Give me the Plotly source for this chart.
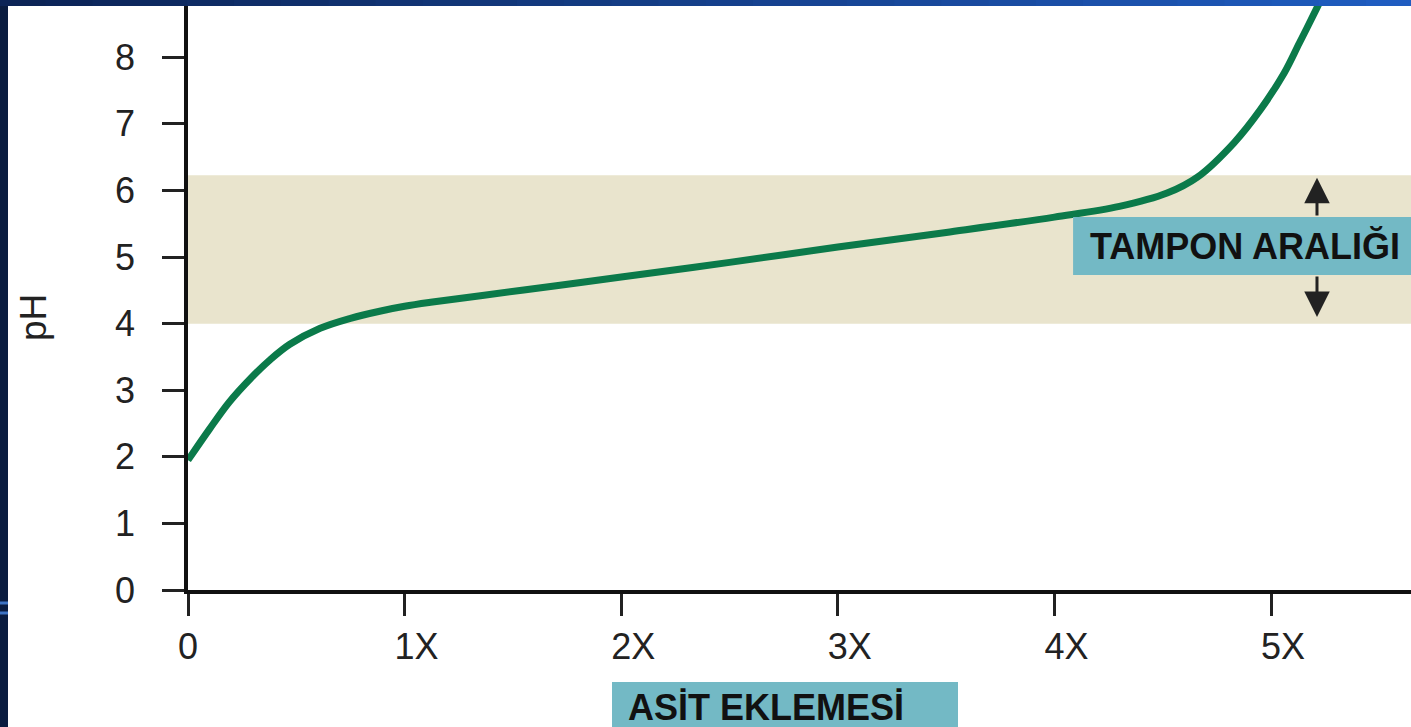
import plotly.graph_objects as go

# ---------------- data ----------------
acid_added = [0, 0.10, 0.19, 0.29, 0.38, 0.47, 0.61, 0.75, 0.89, 1.0, 1.12,
              1.35, 1.7, 2.0, 2.5, 3.0, 3.5, 4.0, 4.3, 4.52, 4.66, 4.83, 4.95,
              5.06, 5.13, 5.21, 5.26]
ph_values = [1.95, 2.42, 2.82, 3.18, 3.46, 3.69, 3.93, 4.08, 4.19, 4.26, 4.32,
             4.42, 4.57, 4.70, 4.92, 5.15, 5.37, 5.60, 5.76, 5.96, 6.20, 6.72, 7.21,
             7.76, 8.21, 8.73, 9.07]
x_tick_vals = [0, 1, 2, 3, 4, 5]
x_tick_labels = ["0", "1X", "2X", "3X", "4X", "5X"]
y_tick_vals = [0, 1, 2, 3, 4, 5, 6, 7, 8]
buffer_low, buffer_high = 4.0, 6.23
buffer_label = "TAMPON ARALIĞI"
x_title = "ASİT EKLEMESİ"
y_title = "pH"

FONT = "Liberation Sans, Arial, Helvetica, sans-serif"
W, H = 1411, 727
ML, MR, MT, MB = 188, 0, 6, 137
X_RANGE = [0, 5.646]
Y_RANGE = [0, 8.77]

# ticks: digit centred on tick (invisible X prefix keeps it centred)
x_ticktext = [t if t == "0" else "<span style='color:#ffffff'>X</span>" + t for t in x_tick_labels]

fig = go.Figure()
fig.add_trace(go.Scatter(
    x=acid_added, y=ph_values, mode="lines",
    line=dict(color="#0b7a4a", width=7, shape="spline", smoothing=1.0),
    hoverinfo="skip", showlegend=False,
))

shapes = []
# buffer band
shapes.append(dict(type="rect", xref="x", yref="y", x0=0, x1=X_RANGE[1] + 1,
                   y0=buffer_low, y1=buffer_high, fillcolor="#e9e4cd",
                   line=dict(width=0), layer="below"))
# label box for buffer range
shapes.append(dict(type="rect", xref="x", yref="y", x0=4.086, x1=X_RANGE[1] + 1,
                   y0=4.73, y1=5.60, fillcolor="#73b9c5",
                   line=dict(width=0), layer="above"))
pw = W - ML - MR
ph = H - MT - MB
def px_x(p):
    return (p - ML) / pw
def px_y(p):
    return (H - MB - p) / ph
# x title box (paper coords below the plot)
shapes.append(dict(type="rect", xref="paper", yref="paper",
                   x0=px_x(612), x1=px_x(958), y0=px_y(682), y1=px_y(760),
                   fillcolor="#73b9c5", line=dict(width=0), layer="above"))
# slide frame: left strip and top gradient strip
shapes.append(dict(type="rect", xref="paper", yref="paper",
                   x0=px_x(-2), x1=px_x(8), y0=px_y(730), y1=px_y(-2),
                   fillcolor="#0a1c40", line=dict(width=0), layer="above"))
for yy in (603, 613):
    shapes.append(dict(type="rect", xref="paper", yref="paper",
                       x0=px_x(-2), x1=px_x(8), y0=px_y(yy + 1.5), y1=px_y(yy - 1.5),
                       fillcolor="#3d73c4", line=dict(width=0), layer="above"))
c0 = (12, 36, 86)
c1 = (31, 92, 192)
n = 30
for i in range(n):
    t = i / (n - 1)
    col = "rgb(%d,%d,%d)" % tuple(int(a + (b - a) * t) for a, b in zip(c0, c1))
    shapes.append(dict(type="rect", xref="paper", yref="paper",
                       x0=px_x(-2 + i * (W + 4) / n), x1=px_x(-2 + (i + 1) * (W + 4) / n + 1),
                       y0=px_y(6), y1=px_y(-2), fillcolor=col,
                       line=dict(width=0), layer="above"))

annotations = [
    dict(text="<b>" + buffer_label + "</b>", xref="x", yref="y", x=4.155, y=5.165,
         xanchor="left", yanchor="middle", showarrow=False,
         font=dict(family=FONT, size=36, color="#111111")),
    dict(text="<b>" + x_title + "</b>", xref="paper", yref="paper",
         x=px_x(626), y=px_y(707), xanchor="left", yanchor="middle", showarrow=False,
         font=dict(family=FONT, size=36, color="#111111")),
    dict(text=y_title, xref="paper", yref="paper", x=px_x(33), y=px_y(318),
         xanchor="center", yanchor="middle", textangle=-90, showarrow=False,
         font=dict(family=FONT, size=37, color="#222222")),
    # buffer range arrows
    dict(text="", xref="x", yref="y", axref="x", ayref="y",
         x=5.212, y=6.19, ax=5.212, ay=5.60, showarrow=True,
         arrowhead=2, arrowsize=1.7, arrowwidth=3, arrowcolor="#222222"),
    dict(text="", xref="x", yref="y", axref="x", ayref="y",
         x=5.212, y=4.10, ax=5.212, ay=4.73, showarrow=True,
         arrowhead=2, arrowsize=1.7, arrowwidth=3, arrowcolor="#222222"),
]

fig.update_layout(
    width=W, height=H,
    margin=dict(l=ML, r=MR, t=MT, b=MB, pad=0),
    paper_bgcolor="#ffffff", plot_bgcolor="#ffffff",
    shapes=shapes, annotations=annotations, showlegend=False,
    font=dict(family=FONT, color="#222222"),
)
fig.update_xaxes(
    range=X_RANGE, tickmode="array", tickvals=x_tick_vals, ticktext=x_ticktext,
    showgrid=False, zeroline=False, showline=True, linecolor="#111111", linewidth=3.5,
    ticks="outside", ticklen=22, tickwidth=2.5, tickcolor="#222222",
    tickfont=dict(family=FONT, size=36, color="#222222"), ticklabelstandoff=0,
    fixedrange=True,
)
fig.update_yaxes(
    range=Y_RANGE, tickmode="array", tickvals=y_tick_vals,
    showgrid=False, zeroline=False, showline=True, linecolor="#111111", linewidth=3.5,
    ticks="outside", ticklen=22, tickwidth=2.5, tickcolor="#222222",
    tickfont=dict(family=FONT, size=36, color="#222222"), ticklabelstandoff=20,
    fixedrange=True,
)

fig.write_html("out.html", config={"displayModeBar": False},
               post_script="document.body.style.margin='0';document.body.style.overflow='hidden';")
